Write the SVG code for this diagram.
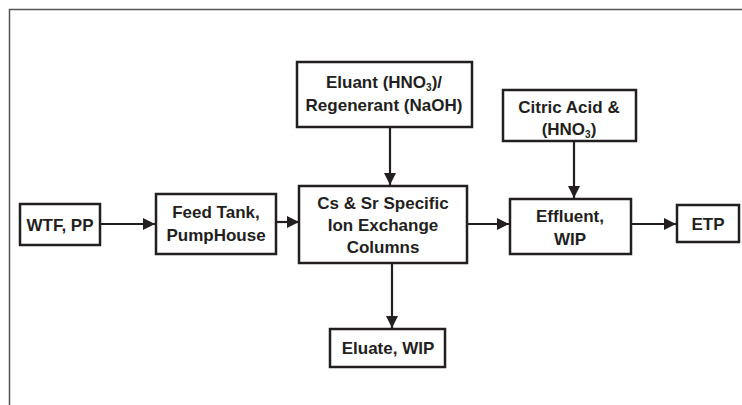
<svg xmlns="http://www.w3.org/2000/svg" width="742" height="405" viewBox="0 0 742 405">
<defs>
<marker id="ah" markerWidth="12" markerHeight="12" refX="12" refY="6" orient="auto" markerUnits="userSpaceOnUse">
<path d="M0,0 L12,6 L0,12 Z" fill="#231f20"/>
</marker>
<style>
.box{fill:#fff;stroke:#231f20;stroke-width:2.5}
.t{font-family:"Liberation Sans",Arial,sans-serif;font-weight:bold;font-size:17px;fill:#231f20;text-anchor:middle}
.c{stroke:#231f20;stroke-width:2.2;fill:none;marker-end:url(#ah)}
.sub{font-size:10px}
</style>
</defs>
<rect width="742" height="405" fill="#fff"/>
<path d="M9.5,405 V9.5 H742" fill="none" stroke="#555" stroke-width="1.5"/>
<g id="connectors">
<line class="c" x1="101" y1="224" x2="155" y2="224"/>
<line class="c" x1="276" y1="222" x2="299" y2="222"/>
<line class="c" x1="390" y1="127" x2="390" y2="185"/>
<line class="c" x1="467" y1="224" x2="509" y2="224"/>
<line class="c" x1="574" y1="141" x2="574" y2="198"/>
<line class="c" x1="631" y1="224" x2="676" y2="224"/>
<line class="c" x1="392" y1="263" x2="392" y2="328"/>
</g>
<g id="wtf">
<rect class="box" x="20" y="204" width="80" height="41"/>
<text class="t" x="60" y="231">WTF, PP</text>
</g>
<g id="feed">
<rect class="box" x="156" y="194" width="120" height="60"/>
<text class="t" x="216" y="218">Feed Tank,</text>
<text class="t" x="216" y="241">PumpHouse</text>
</g>
<g id="eluant">
<rect class="box" x="297" y="62" width="175" height="65"/>
<text class="t" x="384" y="88">Eluant (HNO<tspan class="sub" dy="3">3</tspan><tspan dy="-3">)/</tspan></text>
<text class="t" x="384" y="111">Regenerant (NaOH)</text>
</g>
<g id="ionx">
<rect class="box" x="299" y="186" width="168" height="77"/>
<text class="t" x="383" y="209">Cs &amp; Sr Specific</text>
<text class="t" x="383" y="231">Ion Exchange</text>
<text class="t" x="383" y="253">Columns</text>
</g>
<g id="eluate">
<rect class="box" x="330" y="329" width="115" height="38"/>
<text class="t" x="388" y="354">Eluate, WIP</text>
</g>
<g id="citric">
<rect class="box" x="503" y="90" width="133" height="51"/>
<text class="t" x="569" y="113">Citric Acid &amp;</text>
<text class="t" x="569" y="135">(HNO<tspan class="sub" dy="3">3</tspan><tspan dy="-3">)</tspan></text>
</g>
<g id="effluent">
<rect class="box" x="510" y="199" width="121" height="55"/>
<text class="t" x="570" y="222">Effluent,</text>
<text class="t" x="570" y="245">WIP</text>
</g>
<g id="etp">
<rect class="box" x="677" y="205" width="62" height="37"/>
<text class="t" x="708" y="230">ETP</text>
</g>
</svg>
